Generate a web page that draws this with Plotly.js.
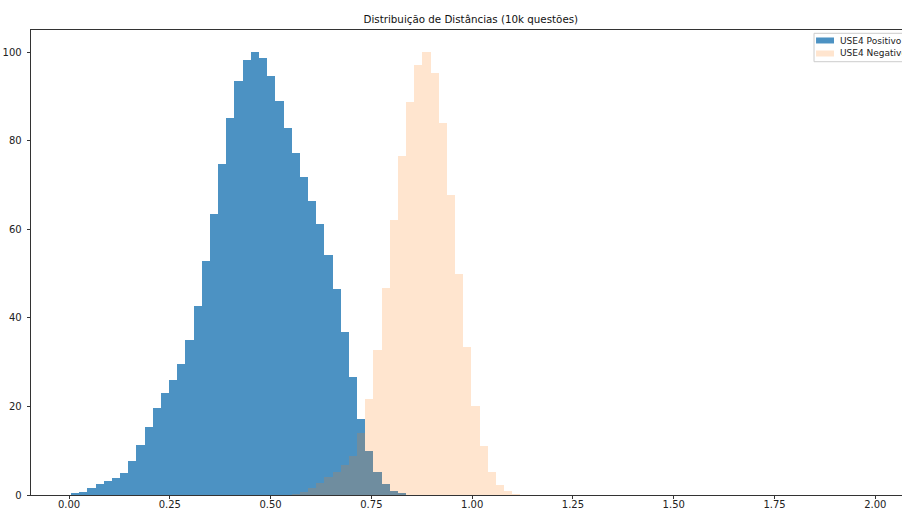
<!DOCTYPE html>
<html>
<head>
<meta charset="utf-8">
<script src="https://cdn.plot.ly/plotly-3.0.1.min.js"></script>
<style>
  html, body { margin: 0; padding: 0; background: #fff; }
  #chart { width: 902px; height: 510px; }
</style>
</head>
<body>
<div id="chart"></div>
<script>
// Shared histogram bins: left edge of the first bin and the bin width.
const BIN_START = 0.005;
const BIN_WIDTH = 0.02027;

// Counts per bin (bin k covers BIN_START + k*BIN_WIDTH .. +BIN_WIDTH).
const positivoCounts = [
  0.4, 0.6, 1.5, 2.4, 3.2, 3.9, 5.0, 7.6, 11.2, 15.4,
  19.7, 23.0, 25.9, 29.6, 35.0, 42.6, 52.8, 63.5, 74.8, 85.1,
  93.4, 98.3, 100, 98.6, 94.7, 89.0, 82.8, 77.2, 71.7, 66.5,
  61.1, 54.3, 46.5, 36.8, 26.7, 17.2, 10.0, 5.3, 2.5, 1.0,
  0.4, 0, 0, 0, 0, 0, 0, 0, 0, 0,
  0, 0, 0, 0, 0, 0
];

const negativoCounts = [
  0, 0, 0, 0, 0, 0, 0, 0, 0, 0,
  0, 0, 0, 0, 0, 0, 0, 0, 0, 0,
  0, 0, 0, 0, 0, 0, 0.1, 0.3, 0.6, 1.6,
  2.7, 4.0, 5.3, 6.8, 8.9, 14.0, 21.7, 32.7, 46.8, 62.0,
  76.6, 88.7, 97.1, 100, 95.4, 84.0, 67.8, 49.8, 33.5, 20.2,
  11.1, 5.3, 2.3, 0.8, 0.3, 0.1
];

const seriesNames = ['USE4 Positivo', 'USE4 Negativo'];
const xTickValues = [0, 0.25, 0.5, 0.75, 1.0, 1.25, 1.5, 1.75, 2.0];
const xTickLabels = ['0.00', '0.25', '0.50', '0.75', '1.00', '1.25', '1.50', '1.75', '2.00'];
const yTickValues = [0, 20, 40, 60, 80, 100];

const binCenters = positivoCounts.map((_, k) => BIN_START + (k + 0.5) * BIN_WIDTH);

const FONT = 'DejaVu Sans, Liberation Sans, sans-serif';
const COLORS = ['rgba(31,119,180,0.8)', 'rgba(255,127,14,0.2)'];

const traces = [
  {
    type: 'bar',
    name: seriesNames[0],
    x: binCenters,
    y: positivoCounts,
    width: BIN_WIDTH,
    marker: { color: COLORS[0], line: { width: 0 } },
    hoverinfo: 'x+y'
  },
  {
    type: 'bar',
    name: seriesNames[1],
    x: binCenters,
    y: negativoCounts,
    width: BIN_WIDTH,
    marker: { color: COLORS[1], line: { width: 0 } },
    hoverinfo: 'x+y'
  }
];

// Legend box in the upper-right corner of the axes (paper coordinates).
const legendShapes = [
  {
    type: 'rect', xref: 'paper', yref: 'paper',
    x0: 0.8990, x1: 1.03, y0: 0.9318, y1: 0.9929,
    fillcolor: 'rgba(255,255,255,0.8)',
    line: { color: '#cccccc', width: 1 },
    layer: 'above'
  },
  {
    type: 'rect', xref: 'paper', yref: 'paper',
    x0: 0.9013, x1: 0.9219, y0: 0.9710, y1: 0.9839,
    fillcolor: COLORS[0], line: { width: 0 }, layer: 'above'
  },
  {
    type: 'rect', xref: 'paper', yref: 'paper',
    x0: 0.9013, x1: 0.9219, y0: 0.9430, y1: 0.9559,
    fillcolor: COLORS[1], line: { width: 0 }, layer: 'above'
  }
];

const legendLabels = [
  {
    text: seriesNames[0], xref: 'paper', yref: 'paper',
    x: 0.9280, y: 0.9770, xanchor: 'left', yanchor: 'middle',
    showarrow: false, borderpad: 0,
    font: { family: FONT, size: 9, color: '#222' }
  },
  {
    text: seriesNames[1], xref: 'paper', yref: 'paper',
    x: 0.9280, y: 0.9499, xanchor: 'left', yanchor: 'middle',
    showarrow: false, borderpad: 0,
    font: { family: FONT, size: 9, color: '#222' }
  }
];

const layout = {
  width: 902,
  height: 510,
  margin: { l: 31, r: 0, t: 30, b: 15, pad: 0, autoexpand: false },
  paper_bgcolor: '#ffffff',
  plot_bgcolor: '#ffffff',
  barmode: 'overlay',
  bargap: 0,
  showlegend: false,
  font: { family: FONT, size: 10, color: '#222' },
  title: {
    text: 'Distribuição de Distâncias (10k questões)',
    font: { family: FONT, size: 10.3, color: '#111' },
    x: 0.522,
    xanchor: 'center',
    xref: 'container',
    y: 0.961,
    yanchor: 'middle',
    yref: 'container'
  },
  xaxis: {
    range: [-0.0943, 2.0662],
    tickvals: xTickValues,
    ticktext: xTickLabels,
    ticks: 'outside',
    ticklen: 3.5,
    tickwidth: 0.8,
    tickcolor: '#000',
    ticklabelstandoff: -3,
    showline: true,
    linecolor: '#000',
    linewidth: 0.8,
    mirror: true,
    showgrid: false,
    zeroline: false,
    tickfont: { family: FONT, size: 10, color: '#222' }
  },
  yaxis: {
    range: [0, 105],
    tickvals: yTickValues,
    ticks: 'outside',
    ticklen: 3.5,
    tickwidth: 0.8,
    tickcolor: '#000',
    ticklabelstandoff: 3,
    showline: true,
    linecolor: '#000',
    linewidth: 0.8,
    mirror: false,
    showgrid: false,
    zeroline: false,
    tickfont: { family: FONT, size: 10, color: '#222' }
  },
  shapes: legendShapes,
  annotations: legendLabels
};

Plotly.newPlot('chart', traces, layout, { displayModeBar: false, staticPlot: true });
</script>
</body>
</html>
